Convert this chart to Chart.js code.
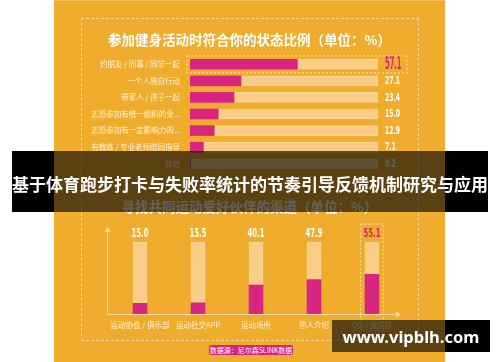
<!DOCTYPE html>
<html>
<head>
<meta charset="utf-8">
<script src="https://cdn.jsdelivr.net/npm/chart.js@4"></script>
<style>
  html, body { margin: 0; padding: 0; background: #fff; }
  body { width: 500px; height: 362px; position: relative; overflow: hidden; font-family: 'Noto Sans CJK SC', sans-serif; }
  .abs { position: absolute; }
  .black { background: #000; z-index: 0; }
  #panel { left: 54px; top: 0; width: 391px; height: 362px; background: #efac2d; border-top: 1px solid #f5c262; box-sizing: border-box; z-index: 1; }
  #frame { left: 81px; top: 18px; width: 338px; height: 323px; border: 1.5px dashed #f7d9a2; box-sizing: border-box; z-index: 2; }
  canvas { position: absolute; z-index: 2; }
  #badge { left: 209px; top: 345px; width: 84px; height: 10px; background: #d6237f; border-radius: 2px; z-index: 2;
           color: #fff; font-size: 7px; line-height: 10px; text-align: center; }
  .shade { background: rgba(0,0,0,0.62); z-index: 3; }
  .txt { z-index: 4; color: #fff; font-weight: bold; text-align: center; white-space: nowrap; }
</style>
</head>
<body>
<div class="abs black" style="left:12px;top:151px;width:476px;height:61px"></div>
<div class="abs black" style="left:332px;top:320px;width:158px;height:32px"></div>
<div id="panel" class="abs"></div>
<div id="frame" class="abs"></div>
<canvas id="statusChart" style="left:54px;top:0px" width="391" height="172"></canvas>
<canvas id="channelChart" style="left:54px;top:190px" width="391" height="144"></canvas>
<div id="badge" class="abs">数据源：尼尔森SLINK数据</div>
<div class="abs shade" style="left:54px;top:151px;width:391px;height:61px"></div>
<div class="abs shade" style="left:332px;top:320px;width:113px;height:32px"></div>
<div class="abs txt" style="left:12px;top:172px;width:476px;font-size:17px;line-height:24px">基于体育跑步打卡与失败率统计的节奏引导反馈机制研究与应用</div>
<div class="abs txt" style="left:334px;top:324px;width:154px;font-family:'Noto Sans';font-size:16.5px;line-height:26px">www.vipblh.com</div>

<script>
/* ============================================
   DATA
   ============================================ */
const statusLabels = ['约朋友 / 同事 / 同学一起', '一个人独自行动', '带家人 / 孩子一起', '志愿参加有统一组织的业...', '志愿参加有一定影响力的...', '有教练 / 专业老师陪同指导', '其他'];
const statusValues = [57.1, 27.1, 23.4, 15.0, 12.9, 7.1, 0.2];
const channelLabels = ['运动协会 / 俱乐部', '运动社交APP', '运动场所', '熟人介绍', 'QQ / 微信群'];
const channelValues = [15.0, 15.5, 40.1, 47.9, 55.1];
const fullScale = 100;

const MAGENTA = '#d8257f';
const TRACK = '#f7cd87';
const TRACK_EDGE = '#f9d79c';
const CJK = "'Noto Sans CJK SC', sans-serif";
const NUM = "'Liberation Sans Narrow', 'DejaVu Sans Condensed', sans-serif";

Chart.defaults.animation = false;
Chart.defaults.responsive = false;

// condensed number text: squeeze horizontally so "00.0" is refWidth wide
function condensedText(ctx, text, x, y, font, refWidth, align) {
    ctx.save();
    ctx.font = font;
    const sx = refWidth / ctx.measureText('00.0').width;
    ctx.translate(x, y);
    ctx.scale(sx, 1);
    ctx.textAlign = align;
    ctx.textBaseline = 'middle';
    ctx.fillText(text, 0, 0);
    ctx.restore();
}

// invisible axis that only reserves width at a side
function spacerAxis(position, type, width) {
    return {
        type: type,
        position: position,
        grid: { display: false, drawTicks: false },
        border: { display: false },
        ticks: { display: false },
        afterFit: (scale) => { scale.width = width; }
    };
}

/* ============================================
   HORIZONTAL BARS: STATUS
   ============================================ */
const statusExtras = {
    id: 'statusExtras',
    afterDatasetsDraw(chart) {
        const ctx = chart.ctx;
        const area = chart.chartArea;
        const bars = chart.getDatasetMeta(1).data;
        bars.forEach((bar, i) => {
            const txt = statusValues[i].toFixed(1);
            if (i === 0) {
                ctx.fillStyle = MAGENTA;
                condensedText(ctx, txt, area.right + 7, bar.y + 0.5, 'bold 18px ' + NUM, 16.5, 'left');
                // dashed highlight box
                ctx.save();
                ctx.strokeStyle = '#f7d9a2';
                ctx.lineWidth = 1.2;
                ctx.setLineDash([2, 2]);
                ctx.strokeRect(area.left - 3, bar.y - 8.5, area.right - area.left + 32, 17);
                ctx.restore();
            } else {
                ctx.fillStyle = '#ffffff';
                condensedText(ctx, txt, area.right + 7, bar.y + 0.5, 'bold 10px ' + NUM, 15, 'left');
            }
        });
    }
};

new Chart(document.getElementById('statusChart'), {
    type: 'bar',
    data: {
        labels: statusLabels,
        datasets: [
            { data: statusLabels.map(() => fullScale), backgroundColor: TRACK, borderColor: TRACK_EDGE, borderWidth: 1, order: 1 },
            { data: statusValues, backgroundColor: MAGENTA, order: 0 }
        ]
    },
    options: {
        indexAxis: 'y',
        layout: { padding: 0 },
        datasets: { bar: { grouped: false, barThickness: 10 } },
        plugins: {
            legend: { display: false },
            tooltip: { enabled: false },
            title: {
                display: true,
                text: '参加健身活动时符合你的状态比例（单位：%）',
                color: '#ffffff',
                font: { family: CJK, size: 13.5, weight: 'bold' },
                padding: { top: 32, bottom: 7.8 }
            }
        },
        scales: {
            x: { display: false, min: 0, max: fullScale },
            y: {
                grid: { display: false, drawTicks: false },
                border: { display: false },
                ticks: { color: '#fff4df', font: { family: CJK, size: 7.5 }, padding: 10, autoSkip: false },
                afterFit: (scale) => { scale.width = 136; scale.paddingTop = 0; scale.paddingBottom = 0; }
            },
            yRight: spacerAxis('right', 'category', 67)
        }
    },
    plugins: [statusExtras]
});

/* ============================================
   VERTICAL BARS: CHANNELS
   ============================================ */
const channelExtras = {
    id: 'channelExtras',
    beforeDatasetsDraw(chart) {
        const ctx = chart.ctx;
        const a = chart.chartArea;
        const ox = a.left - 4;
        ctx.save();
        ctx.strokeStyle = '#f8dca4';
        ctx.fillStyle = '#f8dca4';
        ctx.lineWidth = 1;
        ctx.beginPath();
        ctx.moveTo(ox + 0.5, a.top + 3);
        ctx.lineTo(ox + 0.5, a.bottom + 0.5);
        ctx.lineTo(a.right - 4, a.bottom + 0.5);
        ctx.stroke();
        // arrow heads
        ctx.beginPath();
        ctx.moveTo(ox + 0.5, a.top - 1);
        ctx.lineTo(ox - 2.5, a.top + 4);
        ctx.lineTo(ox + 3.5, a.top + 4);
        ctx.fill();
        ctx.beginPath();
        ctx.moveTo(a.right, a.bottom + 0.5);
        ctx.lineTo(a.right - 5, a.bottom - 2.5);
        ctx.lineTo(a.right - 5, a.bottom + 3.5);
        ctx.fill();
        ctx.restore();
    },
    afterDatasetsDraw(chart) {
        const ctx = chart.ctx;
        const a = chart.chartArea;
        const tracks = chart.getDatasetMeta(0).data;
        tracks.forEach((bar, i) => {
            const last = i === channelValues.length - 1;
            ctx.fillStyle = last ? MAGENTA : '#ffffff';
            condensedText(ctx, channelValues[i].toFixed(1), bar.x, bar.y - 8, 'bold 11.5px ' + NUM, 17, 'center');
            if (last) {
                ctx.save();
                ctx.strokeStyle = '#f7d9a2';
                ctx.lineWidth = 1.2;
                ctx.setLineDash([2, 2]);
                ctx.strokeRect(bar.x - 11.5, bar.y - 18, 23, a.bottom - bar.y + 34);
                ctx.restore();
            }
        });
    }
};

new Chart(document.getElementById('channelChart'), {
    type: 'bar',
    data: {
        labels: channelLabels,
        datasets: [
            { data: channelLabels.map(() => fullScale), backgroundColor: TRACK, borderColor: TRACK_EDGE, borderWidth: 1, order: 1 },
            { data: channelValues, backgroundColor: MAGENTA, order: 0 }
        ]
    },
    options: {
        layout: { padding: 0 },
        datasets: { bar: { grouped: false, barThickness: 14 } },
        plugins: {
            legend: { display: false },
            tooltip: { enabled: false },
            title: {
                display: true,
                text: '寻找共同运动爱好伙伴的渠道（单位：%）',
                color: '#ffffff',
                font: { family: CJK, size: 13.5, weight: 'bold' },
                padding: { top: 9, bottom: 12.6 }
            }
        },
        scales: {
            y: { display: false, min: 0, max: 120 },
            yLeft: spacerAxis('left', 'linear', 57),
            yRight: spacerAxis('right', 'linear', 44),
            x: {
                grid: { display: false, drawTicks: false },
                border: { display: false },
                ticks: { color: '#fff4df', font: { family: CJK, size: 7.5 }, padding: 7, maxRotation: 0, autoSkip: false },
                afterFit: (scale) => { scale.height = 20; scale.paddingLeft = 0; scale.paddingRight = 0; }
            }
        }
    },
    plugins: [channelExtras]
});
</script>
</body>
</html>
